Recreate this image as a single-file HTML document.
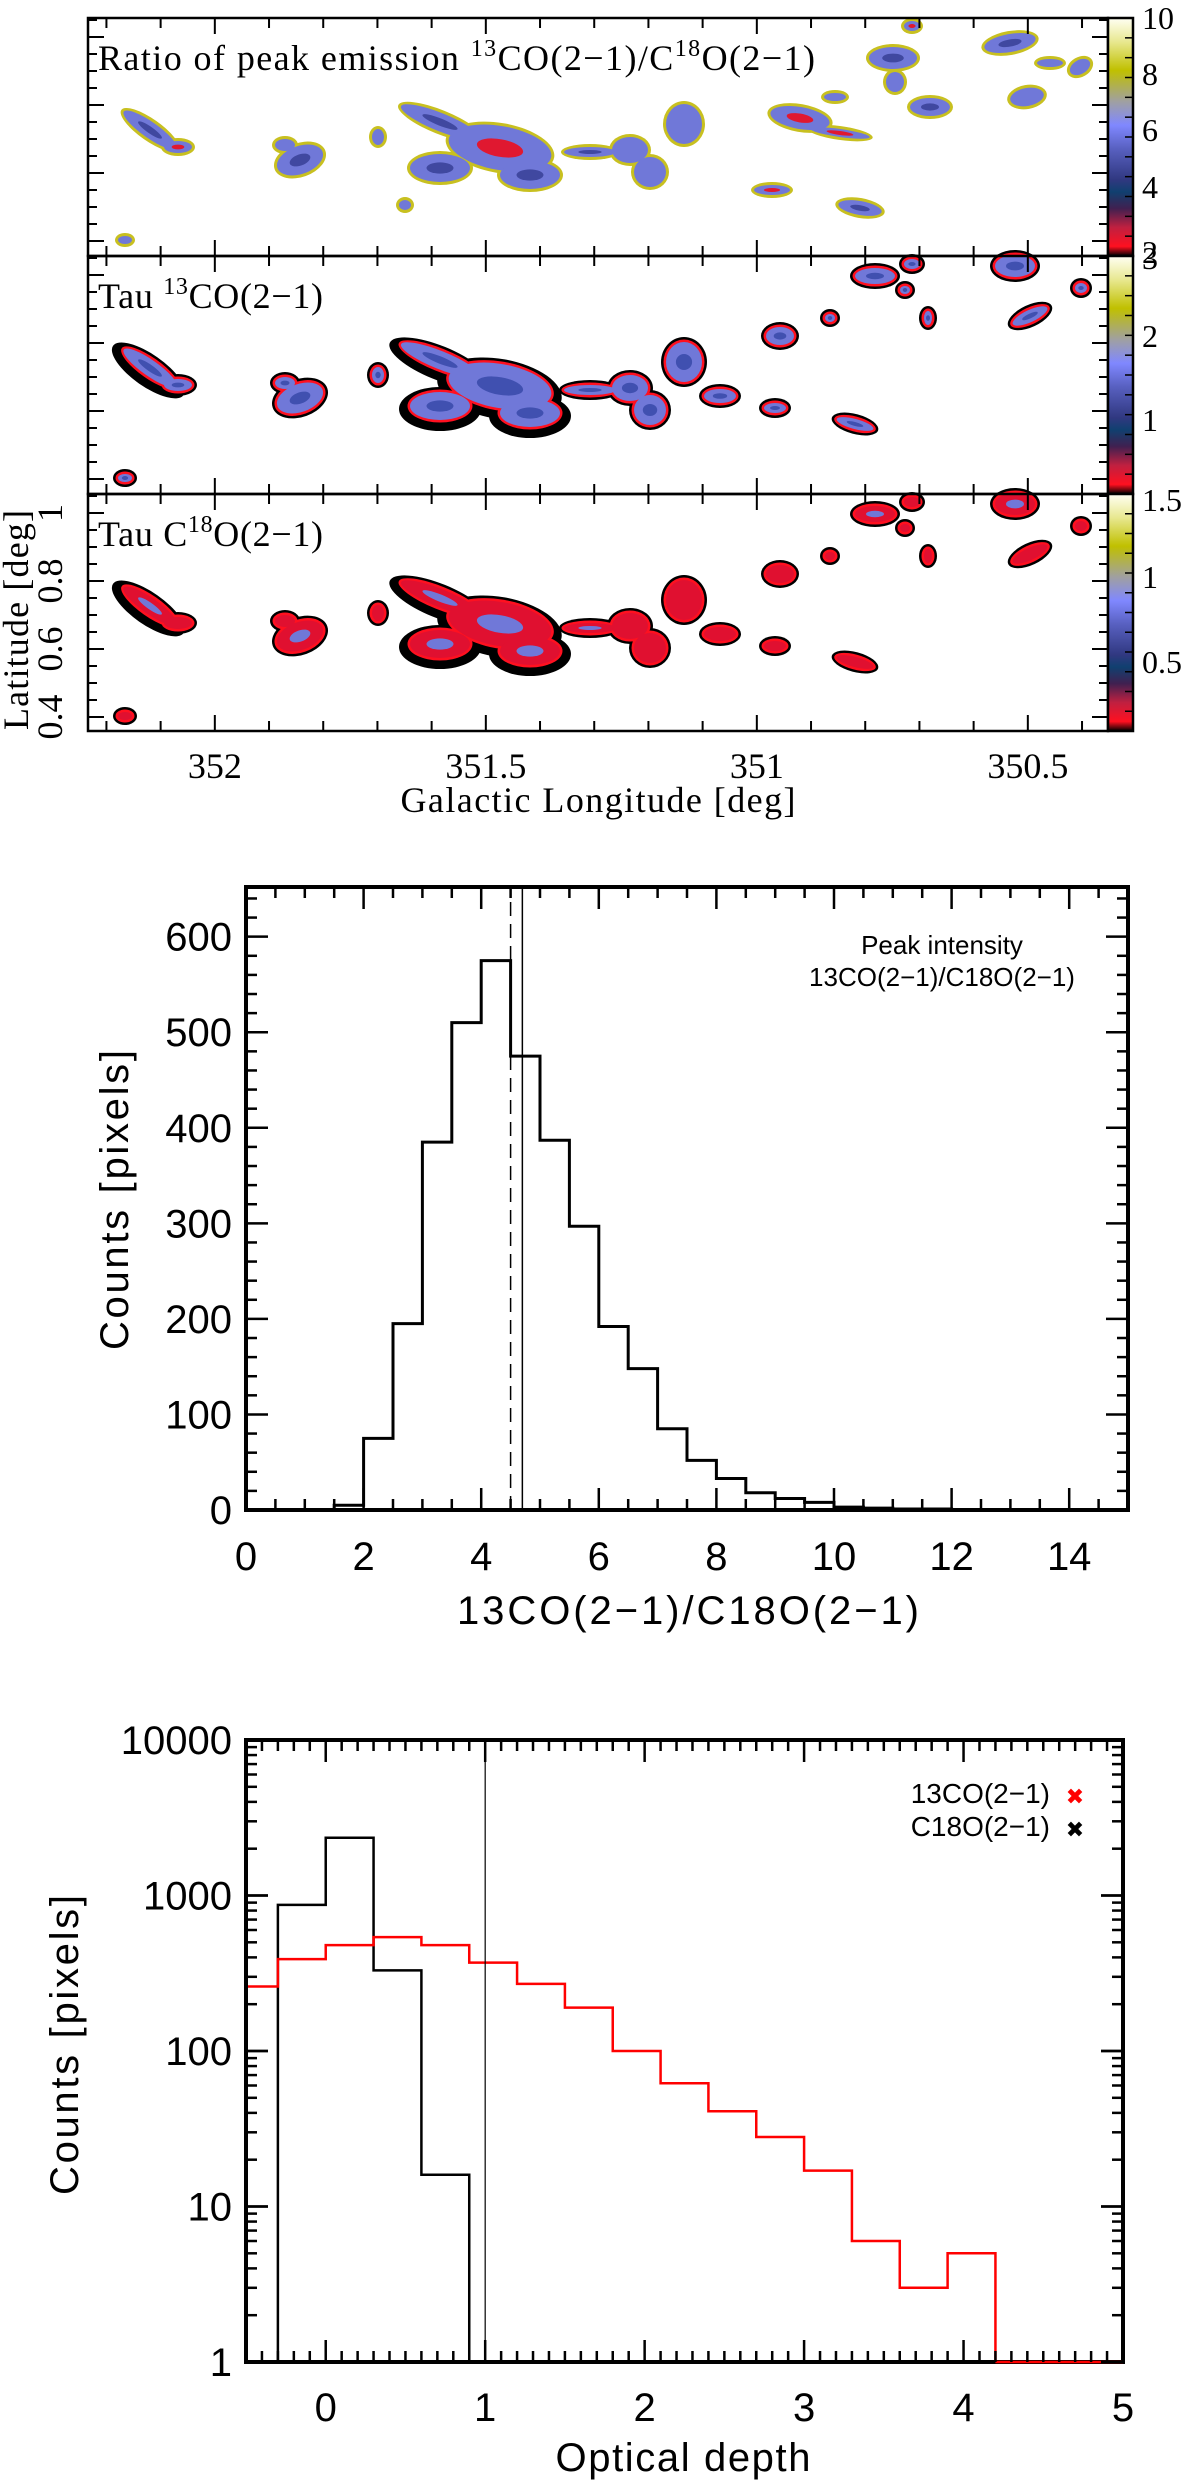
<!DOCTYPE html>
<html><head><meta charset="utf-8"><style>
html,body{margin:0;padding:0;background:#fff;}
svg{display:block;}
</style></head><body>
<svg id="fig" xmlns="http://www.w3.org/2000/svg" width="1200" height="2480" viewBox="0 0 1200 2480">
<defs>
<linearGradient id="cb" x1="0" y1="1" x2="0" y2="0">
<stop offset="0" stop-color="#000"/><stop offset="0.04" stop-color="#ff1020"/><stop offset="0.12" stop-color="#c02040"/><stop offset="0.2" stop-color="#402050"/><stop offset="0.27" stop-color="#104070"/><stop offset="0.32" stop-color="#303880"/><stop offset="0.45" stop-color="#5860c0"/><stop offset="0.55" stop-color="#8088ff"/><stop offset="0.65" stop-color="#a0a0a0"/><stop offset="0.78" stop-color="#c0c000"/><stop offset="0.9" stop-color="#e8e890"/><stop offset="1" stop-color="#fffff4"/>
</linearGradient>
</defs>
<g id="maps"></g>
<g id="hist1"></g>
<g id="hist2"></g>
</svg>
<script>
// ===== Histogram 1 data =====
const ratioBinStart = [0,0.5,1,1.5,2,2.5,3,3.5,4,4.5,5,5.5,6,6.5,7,7.5,8,8.5,9,9.5,10,10.5,11,11.5,12,12.5,13,13.5,14,14.5];
const ratioCounts = [0,0,0,5,75,195,385,510,575,475,387,297,192,148,85,52,33,18,12,8,3,2,1,1,0,0,0,0,0,0];
const ratioXTicks = [0,2,4,6,8,10,12,14];
const ratioYTicks = [0,100,200,300,400,500,600];
const ratioMedian = 4.5;
const ratioMean = 4.7;
// ===== Histogram 2 data =====
const tauBinStart13 = [-0.6,-0.3,0,0.3,0.6,0.9,1.2,1.5,1.8,2.1,2.4,2.7,3.0,3.3,3.6,3.9,4.2,4.5,4.8];
const tauCounts13 = [260,390,480,540,480,370,270,190,100,62,41,28,17,6,3,5,1,1,1];
const tauBinStart18 = [-0.3,0,0.3,0.6];
const tauCounts18 = [870,2350,330,16];
const tauXTicks = [0,1,2,3,4,5];
const tauYTicks = [1,10,100,1000,10000];
const tauLine = 1.0;

const NS='http://www.w3.org/2000/svg';
function mk(parent,tag,attrs,text){const e=document.createElementNS(NS,tag);for(const k in attrs)e.setAttribute(k,attrs[k]);if(text!==undefined)e.textContent=text;parent.appendChild(e);return e;}

// ================= MAPS =================
const maps=document.getElementById('maps');
const MX0=88,MX1=1108,CBX0=1108,CBX1=1133;
const panelTops=[18,256,494],panelBots=[256,494,731];
const lonL=352.234,pxPerDeg=542;
function lonX(l){return MX0+(lonL-l)*pxPerDeg;}
function latY(b){return 513+(1-b)*340;}
const clouds=[
[150,130,32,8,35,7,0],[178,147,14,6,0,7,1],
[300,160,24,14,-20,7,0],[285,145,10,6,0,7,0],[378,137,6,8,0,7,0],
[440,122,42,9,22,7,0],[500,148,52,22,10,7,1],[440,168,30,14,0,7,0],[530,175,30,14,0,7,0],
[590,152,26,5,0,7,0],[630,150,18,13,0,7,0],[650,172,16,15,0,7,0],[684,124,18,20,0,7,0],[405,205,6,5,0,1,0],
[800,118,30,11,10,1,1],[840,133,30,4,8,1,1],[772,190,18,5,0,1,1],[860,208,22,7,10,1,0],
[893,58,24,11,0,1,0],[895,82,9,10,0,1,0],[912,26,8,5,0,7,1],[930,107,20,9,0,1,0],
[1010,43,26,9,-10,1,0],[1027,97,17,9,-10,1,0],[1050,63,13,4,0,1,0],[1080,67,11,7,-30,1,0],[835,97,11,4,0,1,0],
[125,240,7,4,0,7,0],
[780,98,14,9,0,6,0],[775,170,11,5,0,6,0],[855,186,19,5,15,6,1],
[875,38,20,8,0,6,1],[1015,28,20,11,0,6,1],[1030,78,19,6,-25,6,1],[830,80,5,4,0,6,0],[905,52,5,4,0,6,1],[1081,50,6,5,0,6,0],[928,80,4,7,0,6,1],[720,158,16,7,0,6,0]
];
panelTops.forEach((pt,pi)=>{
  const g=mk(maps,'g',{});
  
  
  const dy=pt-18;
  const mask=1<<pi;
  const layers = pi===0 ? [['#c8c020',3],['#7078d8',0]] : [['#000',5],['#ff1020',2.5],[pi===1?'#7078d8':'#e01030',0]];
  layers.forEach(([col,grow])=>{
    clouds.forEach(c=>{ if(!(c[5]&mask))return;
      const extra = (pi>0 && col==='#000' && c[2]>28) ? 6 : 0;
      const e=mk(g,'ellipse',{cx:c[0],cy:c[1]+dy+extra/2,rx:c[2]+grow+extra,ry:c[3]+grow+extra/2,fill:col,transform:`rotate(${c[4]} ${c[0]} ${c[1]+dy})`});
      
      
    });
  });
  clouds.forEach(c=>{ if(!(c[5]&mask))return;
    const col = pi===0 ? (c[6]?'#e01830':'#4048a0') : (pi===1?'#4050b0':'#7078d8');
    if(pi===0 && !c[6] && c[2]<20) return;
    if(pi===2 && c[2]<20) return;
    mk(g,'ellipse',{cx:c[0],cy:c[1]+dy,rx:Math.max(2,c[2]*0.45),ry:Math.max(2,c[3]*0.4),fill:col,transform:`rotate(${c[4]} ${c[0]} ${c[1]+dy})`});
  });
  const fr=mk(maps,'rect',{x:MX0,y:pt,width:MX1-MX0,height:panelBots[pi]-pt,fill:'none',stroke:'#000','stroke-width':2.5});
  
  
  const cbr=mk(maps,'rect',{x:CBX0,y:pt,width:CBX1-CBX0,height:panelBots[pi]-pt,fill:'url(#cb)',stroke:'#000','stroke-width':2.5});
  
  
  for(let k=1;k<12;k++){const y=pt+k*(panelBots[pi]-pt)/12;mk(maps,'line',{x1:CBX1-8,x2:CBX1,y1:y,y2:y,stroke:'#000','stroke-width':1.5});}
  for(let l=352.2;l>350.34;l-=0.1){const x=lonX(l);const maj=Math.abs(l*2-Math.round(l*2))<0.01;const L=maj?16:10;
    mk(maps,'line',{x1:x,x2:x,y1:panelBots[pi],y2:panelBots[pi]-L,stroke:'#000','stroke-width':2});
    mk(maps,'line',{x1:x,x2:x,y1:pt,y2:pt+L,stroke:'#000','stroke-width':2});}
  for(let b=0.2;b<1.2;b+=0.05){const y=latY(b)+(pt-494);if(y<=pt+1||y>=panelBots[pi]-1)continue;const maj=Math.abs(b*5-Math.round(b*5))<0.01;
    mk(maps,'line',{x1:MX0,x2:MX0+(maj?16:9),y1:y,y2:y,stroke:'#000','stroke-width':2});
    mk(maps,'line',{x1:MX1,x2:MX1-(maj?16:9),y1:y,y2:y,stroke:'#000','stroke-width':2});}
});
const mapFont='font-family:"Liberation Serif",serif;font-size:36px;fill:#000';
function mapText(x,y,html,name,tl){const t=mk(maps,'text',{x:x,y:y,style:mapFont});t.innerHTML=html;if(tl){t.setAttribute('textLength',tl);t.setAttribute('lengthAdjust','spacing');}return t;}
mapText(98,70,'Ratio of peak emission <tspan dy="-14" font-size="24">13</tspan><tspan dy="14">CO(2−1)/C</tspan><tspan dy="-14" font-size="24">18</tspan><tspan dy="14">O(2−1)</tspan>','map-title-ratio',717);
mapText(98,308,'Tau <tspan dy="-14" font-size="24">13</tspan><tspan dy="14">CO(2−1)</tspan>','map-title-tau13co',225);
mapText(98,546,'Tau C<tspan dy="-14" font-size="24">18</tspan><tspan dy="14">O(2−1)</tspan>','map-title-tauc18o',225);
[['352',352],['351.5',351.5],['351',351],['350.5',350.5]].forEach(([s,l])=>{const t=mk(maps,'text',{x:lonX(l),y:778,'text-anchor':'middle',style:mapFont},s);});
{const t=mk(maps,'text',{x:598,y:812,'text-anchor':'middle',style:mapFont,textLength:395},'Galactic Longitude [deg]');}
[['1',1],['0.8',0.8],['0.6',0.6],['0.4',0.4]].forEach(([s,b])=>{const t=mk(maps,'text',{x:62,y:latY(b),'text-anchor':'middle',transform:`rotate(-90 62 ${latY(b)})`,style:mapFont},s);});
{const t=mk(maps,'text',{x:28,y:620,'text-anchor':'middle',transform:'rotate(-90 28 620)',style:mapFont,textLength:220},'Latitude [deg]');}
const cbLabels=[[['10',18],['8',74],['6',130],['4',187],['2',252]],[['3',258],['2',336],['1',420]],[['1.5',500],['1',577],['0.5',662]]];
cbLabels.forEach(arr=>arr.forEach(([s,y])=>{const t=mk(maps,'text',{x:1142,y:y+11,style:'font-family:"Liberation Serif",serif;font-size:32px;fill:#000'},s);}));

// ================= HIST 1 =================
const h1=document.getElementById('hist1');
const H1={x0:246,x1:1128,y0:1510,y1:887,xmin:0,xmax:15,ymax:652};
function h1x(v){return H1.x0+(v-H1.xmin)/(H1.xmax-H1.xmin)*(H1.x1-H1.x0);}
function h1y(v){return H1.y0-v/H1.ymax*(H1.y0-H1.y1);}
const sans='font-family:"Liberation Sans",sans-serif;fill:#000';
{
  let d='M'+h1x(ratioBinStart[0])+','+h1y(0);
  ratioCounts.forEach((c,i)=>{const a=ratioBinStart[i],b=a+0.5;d+=' L'+h1x(a)+','+h1y(c)+' L'+h1x(b)+','+h1y(c);});
  const p=mk(h1,'path',{d:d,fill:'none',stroke:'#000','stroke-width':3});
  
  const l1=mk(h1,'line',{x1:h1x(ratioMedian),x2:h1x(ratioMedian),y1:H1.y0,y2:H1.y1,stroke:'#000','stroke-width':1.5,'stroke-dasharray':'14,8'});
  
  const l2=mk(h1,'line',{x1:h1x(ratioMean),x2:h1x(ratioMean),y1:H1.y0,y2:H1.y1,stroke:'#000','stroke-width':1.5});
  
  const fr=mk(h1,'rect',{x:H1.x0,y:H1.y1,width:H1.x1-H1.x0,height:H1.y0-H1.y1,fill:'none',stroke:'#000','stroke-width':4});
  
  for(let v=0;v<=15.001;v+=0.5){const maj=Math.abs(v/2-Math.round(v/2))<0.01;const L=maj?22:11;const x=h1x(v);
    mk(h1,'line',{x1:x,x2:x,y1:H1.y0,y2:H1.y0-L,stroke:'#000','stroke-width':2.5});mk(h1,'line',{x1:x,x2:x,y1:H1.y1,y2:H1.y1+L,stroke:'#000','stroke-width':2.5});}
  for(let v=0;v<=650;v+=20){const maj=v%100===0;const L=maj?22:11;const y=h1y(v);
    mk(h1,'line',{x1:H1.x0,x2:H1.x0+L,y1:y,y2:y,stroke:'#000','stroke-width':2.5});mk(h1,'line',{x1:H1.x1,x2:H1.x1-L,y1:y,y2:y,stroke:'#000','stroke-width':2.5});}
  ratioXTicks.forEach(v=>{const t=mk(h1,'text',{x:h1x(v),y:1570,'text-anchor':'middle',style:sans+';font-size:40px'},String(v));});
  ratioYTicks.forEach(v=>{const t=mk(h1,'text',{x:232,y:h1y(v)+14,'text-anchor':'end',style:sans+';font-size:40px'},String(v));});
  let t=mk(h1,'text',{x:688,y:1624,'text-anchor':'middle',style:sans+';font-size:40px',textLength:462},'13CO(2−1)/C18O(2−1)');
  t=mk(h1,'text',{x:128,y:1200,'text-anchor':'middle',transform:'rotate(-90 128 1200)',style:sans+';font-size:40px',textLength:300},'Counts  [pixels]');
  t=mk(h1,'text',{x:942,y:954,'text-anchor':'middle',style:sans+';font-size:26px'},'Peak intensity');
  t=mk(h1,'text',{x:942,y:986,'text-anchor':'middle',style:sans+';font-size:26px'},'13CO(2−1)/C18O(2−1)');
}

// ================= HIST 2 (log) =================
const h2=document.getElementById('hist2');
const H2={x0:246,x1:1123,y0:2362,y1:1740,xmin:-0.5,xmax:5,lmin:0,lmax:4};
function h2x(v){return H2.x0+(v-H2.xmin)/(H2.xmax-H2.xmin)*(H2.x1-H2.x0);}
function h2y(v){const l=Math.log10(Math.max(v,1));return H2.y0-(l-H2.lmin)/(H2.lmax-H2.lmin)*(H2.y0-H2.y1);}
{
  const cl=mk(h2,'clipPath',{id:'h2clip'});mk(cl,'rect',{x:H2.x0,y:H2.y1,width:H2.x1-H2.x0,height:H2.y0-H2.y1+3});
  let d='M'+h2x(tauBinStart18[0])+','+h2y(1);
  tauCounts18.forEach((c,i)=>{const a=tauBinStart18[i],b=a+0.3;d+=' L'+h2x(a)+','+h2y(c)+' L'+h2x(b)+','+h2y(c);});
  d+=' L'+h2x(tauBinStart18[tauBinStart18.length-1]+0.3)+','+h2y(1);
  let p=mk(h2,'path',{d:d,fill:'none',stroke:'#000','stroke-width':2.5,'clip-path':'url(#h2clip)'});
  
  d='';
  tauCounts13.forEach((c,i)=>{const a=tauBinStart13[i],b=a+0.3;d+=(i?' L':'M')+h2x(a)+','+h2y(c)+' L'+h2x(b)+','+h2y(c);});
  p=mk(h2,'path',{d:d,fill:'none',stroke:'#ff0000','stroke-width':2.5,'clip-path':'url(#h2clip)'});
  
  const vl=mk(h2,'line',{x1:h2x(tauLine),x2:h2x(tauLine),y1:H2.y0,y2:H2.y1,stroke:'#000','stroke-width':1.2});
  
  const fr=mk(h2,'rect',{x:H2.x0,y:H2.y1,width:H2.x1-H2.x0,height:H2.y0-H2.y1,fill:'none',stroke:'#000','stroke-width':4});
  
  // redraw red bottom segment over the frame
  p=mk(h2,'line',{x1:h2x(4.2),x2:H2.x1,y1:H2.y0,y2:H2.y0,stroke:'#ff0000','stroke-width':2.5});
  
  for(let v=-0.5;v<=5.001;v+=0.1){const maj=Math.abs(v-Math.round(v))<0.01;const L=maj?22:11;const x=h2x(v);
    mk(h2,'line',{x1:x,x2:x,y1:H2.y0,y2:H2.y0-L,stroke:'#000','stroke-width':2.5});mk(h2,'line',{x1:x,x2:x,y1:H2.y1,y2:H2.y1+L,stroke:'#000','stroke-width':2.5});}
  for(let e=0;e<4;e++)for(let m=1;m<=10;m++){const v=m*Math.pow(10,e);const maj=(m===1||m===10);const L=maj?22:11;const y=h2y(v);
    mk(h2,'line',{x1:H2.x0,x2:H2.x0+L,y1:y,y2:y,stroke:'#000','stroke-width':2.5});mk(h2,'line',{x1:H2.x1,x2:H2.x1-L,y1:y,y2:y,stroke:'#000','stroke-width':2.5});}
  tauXTicks.forEach(v=>{const t=mk(h2,'text',{x:h2x(v),y:2421,'text-anchor':'middle',style:sans+';font-size:40px'},String(v));});
  tauYTicks.forEach(v=>{const t=mk(h2,'text',{x:232,y:h2y(v)+14,'text-anchor':'end',style:sans+';font-size:40px'},String(v));});
  let t=mk(h2,'text',{x:683,y:2471,'text-anchor':'middle',style:sans+';font-size:40px',textLength:255},'Optical depth');
  t=mk(h2,'text',{x:78,y:2045,'text-anchor':'middle',transform:'rotate(-90 78 2045)',style:sans+';font-size:40px',textLength:300},'Counts  [pixels]');
  t=mk(h2,'text',{x:1050,y:1803,'text-anchor':'end',style:sans+';font-size:28px'},'13CO(2−1)');
  let s=mk(h2,'text',{x:1075,y:1804,'text-anchor':'middle',style:'font-family:"DejaVu Sans",sans-serif;font-size:22px;fill:#ff0000;font-weight:bold'},'✖');
  t=mk(h2,'text',{x:1050,y:1836,'text-anchor':'end',style:sans+';font-size:28px'},'C18O(2−1)');
  s=mk(h2,'text',{x:1075,y:1837,'text-anchor':'middle',style:'font-family:"DejaVu Sans",sans-serif;font-size:22px;fill:#000;font-weight:bold'},'✖');
}
</script>
</body></html>
